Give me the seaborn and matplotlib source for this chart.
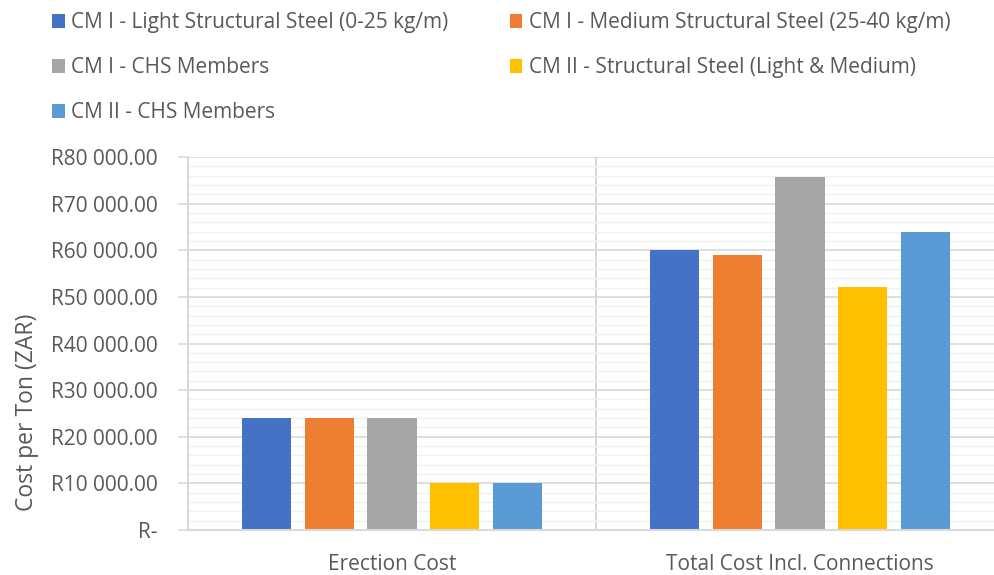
import matplotlib
matplotlib.use("Agg")
import matplotlib.pyplot as plt
from matplotlib.ticker import MultipleLocator, FuncFormatter
import seaborn as sns
import pandas as pd

# Cost categories on the x axis
categories = ["Erection Cost", "Total Cost Incl. Connections"]

# Series names (legend order)
series_names = [
    "CM I - Light Structural Steel (0-25 kg/m)",
    "CM I - Medium Structural Steel (25-40 kg/m)",
    "CM I - CHS Members",
    "CM II - Structural Steel (Light & Medium)",
    "CM II - CHS Members",
]

# Cost per ton (ZAR) for each series, per category
cm1_light = [24000, 60000]
cm1_medium = [24000, 58900]
cm1_chs = [24000, 75700]
cm2_structural = [10000, 52100]
cm2_chs = [10000, 64000]

series_values = [cm1_light, cm1_medium, cm1_chs, cm2_structural, cm2_chs]
colors = ["#4472C4", "#ED7D31", "#A5A5A5", "#FFC000", "#5B9BD5"]

rows = []
for name, vals in zip(series_names, series_values):
    for cat, v in zip(categories, vals):
        rows.append({"Category": cat, "Series": name, "Cost": v})
df = pd.DataFrame(rows)

sns.set_theme(style="white")
plt.rcParams["font.family"] = ["Open Sans", "DejaVu Sans"]

text_color = "#595959"
grid_major = "#D9D9D9"
grid_minor = "#F0F0F0"
fs = 15

fig = plt.figure(figsize=(9.95, 5.75), dpi=100)
ax = fig.add_axes([188 / 995, 45 / 575, 816 / 995, 373 / 575])

sns.barplot(
    data=df, x="Category", y="Cost", hue="Series",
    hue_order=series_names, order=categories,
    palette=colors, width=0.77, gap=0.215, linewidth=0,
    saturation=1, ax=ax, legend=True,
)

ax.set_ylim(0, 80000)
ax.set_xlim(-0.5, 1.5)
ax.yaxis.set_major_locator(MultipleLocator(10000))
ax.yaxis.set_minor_locator(MultipleLocator(2000))


def rand_fmt(v, pos):
    if v == 0:
        return "R-"
    return "R" + f"{v:,.2f}".replace(",", " ")


ax.yaxis.set_major_formatter(FuncFormatter(rand_fmt))
ax.grid(axis="y", which="major", color=grid_major, linewidth=1.2)
ax.grid(axis="y", which="minor", color=grid_minor, linewidth=1.0)
ax.set_axisbelow(True)
ax.axvline(0.5, color=grid_major, linewidth=1.5, zorder=0.5)

for side in ["top", "right"]:
    ax.spines[side].set_visible(False)
for side in ["left", "bottom"]:
    ax.spines[side].set_color(grid_major)
    ax.spines[side].set_linewidth(1.5)

ax.tick_params(axis="y", which="major", length=7, width=1.2, color=grid_major,
               labelcolor=text_color, labelsize=fs, pad=15, left=True)
ax.tick_params(axis="y", which="minor", length=0)
ax.tick_params(axis="x", length=0, labelcolor=text_color, labelsize=fs, pad=17)

ax.set_xlabel("")
ax.set_ylabel("Cost per Ton (ZAR)", color=text_color, fontsize=16.5)
ax.yaxis.set_label_coords(-149 / 816, (575 - 412 - 45) / 373)

# Legend laid out row by row across two columns
handles, labels = ax.get_legend_handles_labels()
ax.get_legend().remove()
order = [0, 2, 4, 1, 3]
fig.legend(
    [handles[i] for i in order], [labels[i] for i in order],
    ncol=2, loc="upper left", bbox_to_anchor=(44 / 995, 1 - 4 / 575),
    frameon=False, fontsize=fs, labelcolor=text_color,
    handlelength=0.6, handleheight=0.6, handletextpad=0.3,
    columnspacing=2.95, labelspacing=1.15, borderaxespad=0,
)

fig.savefig("out.png", dpi=100)
